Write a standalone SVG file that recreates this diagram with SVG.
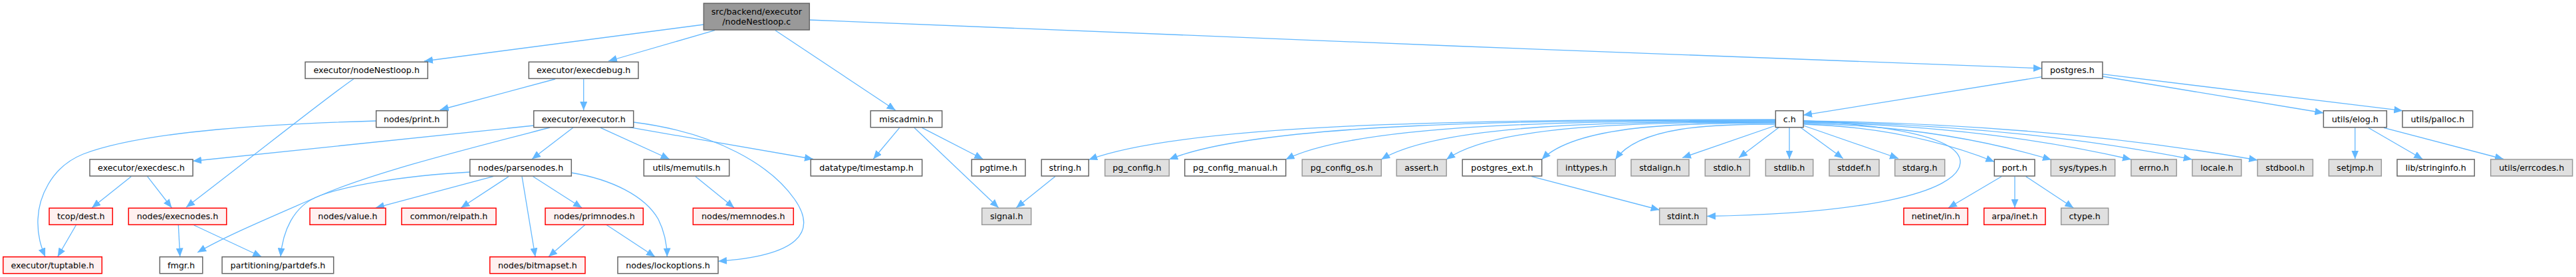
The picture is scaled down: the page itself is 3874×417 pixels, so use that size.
<svg xmlns="http://www.w3.org/2000/svg" width="3874" height="417" viewBox="0 0 3874 417">
<style>
rect{stroke-width:1.5}
.w rect{fill:#fff;stroke:#666}
.g rect{fill:#e0e0e0;stroke:#999}
.r rect{fill:#fff0f0;stroke:#f00}
.root rect{fill:#999;stroke:#666}
text{font-family:"DejaVu Sans","Liberation Sans",sans-serif;font-size:12.7px;text-anchor:middle;fill:#000}
.e path{fill:none;stroke:#63b8ff;stroke-width:1.3;marker-end:url(#ah)}
</style>
<defs>
<marker id="ah" markerUnits="userSpaceOnUse" markerWidth="13" markerHeight="11" refX="13" refY="5.5" orient="auto" viewBox="0 0 13 11"><path d="M0,0 L13,5.5 L0,11 z" fill="#63b8ff"/></marker>
</defs>
<rect width="3874" height="417" fill="#fff"/>
<g id="edges" class="e">
<path d="M1058,37 L638,92"/>
<path d="M1075,45.7 L915,92"/>
<path d="M1166,45.7 L1346.7,166"/>
<path d="M1217.3,30 C1600,44 2600,88 3071,103"/>
<path d="M531.7,119 C500,140 400,220 280,312"/>
<path d="M835,119 L661.7,165.5"/>
<path d="M877.7,119 L877.7,166"/>
<path d="M566,182 C420,186 220,196 125,232 C75,252 58,300 57,330 C56,355 62,372 68,386.5"/>
<path d="M802.7,189 L290,242.5"/>
<path d="M827,192 C700,225 560,260 480,295 C400,330 340,355 297,380"/>
<path d="M707,259 C600,265 520,280 480,295 C440,310 425,350 422,386.5"/>
<path d="M861.7,192.3 L800,239.5"/>
<path d="M903.3,192.3 L1006.7,239.5"/>
<path d="M946.7,191.7 L1223,239.5"/>
<path d="M953,184 C1080,200 1160,250 1195,300 C1230,350 1200,385 1080,393.3"/>
<path d="M741.7,265.7 L565,312.8"/>
<path d="M765,265.7 L693.3,312.8"/>
<path d="M785,265.7 L805,386.5"/>
<path d="M801.7,265.7 L875,312.8"/>
<path d="M859,260 C920,270 970,295 990,330 C1000,350 1003,370 1003.3,386.5"/>
<path d="M880,338.3 L825,386.5"/>
<path d="M911.7,338.3 L985,386.5"/>
<path d="M268.3,339 L270.7,386.5"/>
<path d="M291.7,339 L393.3,386.5"/>
<path d="M197.3,265.7 L138.3,312.8"/>
<path d="M221.7,265.7 L258.3,312.8"/>
<path d="M114.3,339 L86.7,386.5"/>
<path d="M1046,265.7 L1104,312.8"/>
<path d="M1352.7,192.3 L1313.3,239.5"/>
<path d="M1386.7,192.3 L1478.3,239.5"/>
<path d="M1375,192.3 L1501.7,312.8"/>
<path d="M1586.7,265.7 L1528.3,312.8"/>
<path d="M3070.7,115.7 L2712,173.3"/>
<path d="M3162,115 L3494.3,170"/>
<path d="M3162,111.7 L3613.3,166.7"/>
<path d="M2670,180 C2257,180 1792,183 1637.3,240.5"/>
<path d="M2670,181 C2305,181 1895,184 1758.3,240"/>
<path d="M2670,182 C2375,182 2044,185 1933.7,240"/>
<path d="M2670,183 C2433,183 2166,186 2077.3,240"/>
<path d="M2670,184 C2472,184 2249,187 2175.3,240"/>
<path d="M2670,185 C2529,185 2371,188 2318.7,240"/>
<path d="M2670,187 C2574,187 2465,190 2429.3,240"/>
<path d="M2670.3,189 L2530,237.5"/>
<path d="M2675,192 L2615,237.5"/>
<path d="M2691,192 L2691,239.5"/>
<path d="M2708,192 L2771.7,238.5"/>
<path d="M2712,189 L2855,238.5"/>
<path d="M2712,187 Q2870,192 2999.3,243.5"/>
<path d="M2712,185.5 Q2917,190 3085,240.5"/>
<path d="M2712,184 Q2983,189 3205,240"/>
<path d="M2712,183 Q3033.6,188 3296.7,240"/>
<path d="M2712,182 Q3087.6,187 3395,241"/>
<path d="M2712,181.5 C2830,188 2950,205 2948,245 C2945,290 2800,322 2567,325.5"/>
<path d="M2303.3,265.7 L2495.7,316"/>
<path d="M3010,265.7 L2930,313"/>
<path d="M3030,265.7 L3030,312.8"/>
<path d="M3046.7,265.7 L3118.3,313"/>
<path d="M3541.7,192.3 L3541.7,239.5"/>
<path d="M3561.7,192.3 L3643.3,239.5"/>
<path d="M3585,192.3 L3765,239.5"/>
</g>
<g id="n_root" class="root"><rect x="1058.3" y="5" width="159" height="40"/><text x="1137.8" y="21.5">src/backend/executor</text><text x="1137.8" y="36.5">/nodeNestloop.c</text></g>
<g id="n_nodeNestloop_h" class="w"><rect x="459" y="93.3" width="184.3" height="25"/><text x="551.2" y="110.1">executor/nodeNestloop.h</text></g>
<g id="n_execdebug" class="w"><rect x="795.3" y="93.3" width="164.7" height="25"/><text x="877.7" y="110.1">executor/execdebug.h</text></g>
<g id="n_postgres" class="w"><rect x="3070.7" y="93.3" width="91.3" height="25"/><text x="3116.4" y="110.1">postgres.h</text></g>
<g id="n_print" class="w"><rect x="565.7" y="166.7" width="107" height="25"/><text x="619.2" y="183.5">nodes/print.h</text></g>
<g id="n_executor" class="w"><rect x="802.7" y="166.7" width="150" height="25"/><text x="877.7" y="183.5">executor/executor.h</text></g>
<g id="n_miscadmin" class="w"><rect x="1309.3" y="166.7" width="107.4" height="25"/><text x="1363" y="183.5">miscadmin.h</text></g>
<g id="n_c" class="w"><rect x="2670.3" y="166.7" width="41.7" height="25"/><text x="2691.2" y="183.5">c.h</text></g>
<g id="n_elog" class="w"><rect x="3494.3" y="166.7" width="95" height="25"/><text x="3541.8" y="183.5">utils/elog.h</text></g>
<g id="n_palloc" class="w"><rect x="3613" y="166.7" width="105.7" height="25"/><text x="3665.9" y="183.5">utils/palloc.h</text></g>
<g id="n_execdesc" class="w"><rect x="135" y="240" width="155" height="25"/><text x="212.5" y="256.8">executor/execdesc.h</text></g>
<g id="n_parsenodes" class="w"><rect x="706.7" y="240" width="152.6" height="25"/><text x="783" y="256.8">nodes/parsenodes.h</text></g>
<g id="n_memutils" class="w"><rect x="968.3" y="240" width="128.4" height="25"/><text x="1032.5" y="256.8">utils/memutils.h</text></g>
<g id="n_timestamp" class="w"><rect x="1219.3" y="240" width="167.4" height="25"/><text x="1303" y="256.8">datatype/timestamp.h</text></g>
<g id="n_pgtime" class="w"><rect x="1461.3" y="240" width="80.7" height="25"/><text x="1501.7" y="256.8">pgtime.h</text></g>
<g id="n_string" class="w"><rect x="1566.3" y="240" width="71" height="25"/><text x="1601.8" y="256.8">string.h</text></g>
<g id="n_pg_config" class="g"><rect x="1661.7" y="240" width="96.6" height="25"/><text x="1710" y="256.8">pg_config.h</text></g>
<g id="n_pg_config_manual" class="w"><rect x="1781.7" y="240" width="152" height="25"/><text x="1857.7" y="256.8">pg_config_manual.h</text></g>
<g id="n_pg_config_os" class="g"><rect x="1958.3" y="240" width="119" height="25"/><text x="2017.8" y="256.8">pg_config_os.h</text></g>
<g id="n_assert" class="g"><rect x="2100.3" y="240" width="75" height="25"/><text x="2137.8" y="256.8">assert.h</text></g>
<g id="n_postgres_ext" class="w"><rect x="2199.3" y="240" width="119.4" height="25"/><text x="2259" y="256.8">postgres_ext.h</text></g>
<g id="n_inttypes" class="g"><rect x="2342.3" y="240" width="87" height="25"/><text x="2385.8" y="256.8">inttypes.h</text></g>
<g id="n_stdalign" class="g"><rect x="2453" y="240" width="87" height="25"/><text x="2496.5" y="256.8">stdalign.h</text></g>
<g id="n_stdio" class="g"><rect x="2564.3" y="240" width="67" height="25"/><text x="2597.8" y="256.8">stdio.h</text></g>
<g id="n_stdlib" class="g"><rect x="2655.3" y="240" width="71.4" height="25"/><text x="2691" y="256.8">stdlib.h</text></g>
<g id="n_stddef" class="g"><rect x="2751" y="240" width="75" height="25"/><text x="2788.5" y="256.8">stddef.h</text></g>
<g id="n_stdarg" class="g"><rect x="2849.7" y="240" width="75" height="25"/><text x="2887.2" y="256.8">stdarg.h</text></g>
<g id="n_port" class="w"><rect x="2999.3" y="240" width="60.7" height="25"/><text x="3029.7" y="256.8">port.h</text></g>
<g id="n_sys_types" class="g"><rect x="3084.3" y="240" width="96.4" height="25"/><text x="3132.5" y="256.8">sys/types.h</text></g>
<g id="n_errno" class="g"><rect x="3205" y="240" width="68.3" height="25"/><text x="3239.2" y="256.8">errno.h</text></g>
<g id="n_locale" class="g"><rect x="3297" y="240" width="73.7" height="25"/><text x="3333.9" y="256.8">locale.h</text></g>
<g id="n_stdbool" class="g"><rect x="3395" y="240" width="83.3" height="25"/><text x="3436.7" y="256.8">stdbool.h</text></g>
<g id="n_setjmp" class="g"><rect x="3502.3" y="240" width="79" height="25"/><text x="3541.8" y="256.8">setjmp.h</text></g>
<g id="n_stringinfo" class="w"><rect x="3605" y="240" width="116.3" height="25"/><text x="3663.2" y="256.8">lib/stringinfo.h</text></g>
<g id="n_errcodes" class="g"><rect x="3745.7" y="240" width="123" height="25"/><text x="3807.2" y="256.8">utils/errcodes.h</text></g>
<g id="n_dest" class="r"><rect x="74" y="313.3" width="95.3" height="25"/><text x="121.7" y="330.1">tcop/dest.h</text></g>
<g id="n_execnodes" class="r"><rect x="193.3" y="313.3" width="147.4" height="25"/><text x="267" y="330.1">nodes/execnodes.h</text></g>
<g id="n_value" class="r"><rect x="466" y="313.3" width="114" height="25"/><text x="523" y="330.1">nodes/value.h</text></g>
<g id="n_relpath" class="r"><rect x="604" y="313.3" width="142" height="25"/><text x="675" y="330.1">common/relpath.h</text></g>
<g id="n_primnodes" class="r"><rect x="820" y="313.3" width="147.3" height="25"/><text x="893.7" y="330.1">nodes/primnodes.h</text></g>
<g id="n_memnodes" class="r"><rect x="1042.3" y="313.3" width="151" height="25"/><text x="1117.8" y="330.1">nodes/memnodes.h</text></g>
<g id="n_signal" class="g"><rect x="1476.7" y="313.3" width="74" height="25"/><text x="1513.7" y="330.1">signal.h</text></g>
<g id="n_stdint" class="g"><rect x="2495.7" y="313.3" width="71" height="25"/><text x="2531.2" y="330.1">stdint.h</text></g>
<g id="n_netinet" class="r"><rect x="2863" y="313.3" width="96.3" height="25"/><text x="2911.2" y="330.1">netinet/in.h</text></g>
<g id="n_arpa" class="r"><rect x="2983.7" y="313.3" width="92.3" height="25"/><text x="3029.9" y="330.1">arpa/inet.h</text></g>
<g id="n_ctype" class="g"><rect x="3099.7" y="313.3" width="71" height="25"/><text x="3135.2" y="330.1">ctype.h</text></g>
<g id="n_tuptable" class="r"><rect x="4.7" y="386.7" width="148.6" height="25"/><text x="79" y="403.5">executor/tuptable.h</text></g>
<g id="n_fmgr" class="w"><rect x="240.3" y="386.7" width="64.4" height="25"/><text x="272.5" y="403.5">fmgr.h</text></g>
<g id="n_partdefs" class="w"><rect x="334" y="386.7" width="167.7" height="25"/><text x="417.9" y="403.5">partitioning/partdefs.h</text></g>
<g id="n_bitmapset" class="r"><rect x="736.7" y="386.7" width="143.3" height="25"/><text x="808.4" y="403.5">nodes/bitmapset.h</text></g>
<g id="n_lockoptions" class="w"><rect x="929" y="386.7" width="151" height="25"/><text x="1004.5" y="403.5">nodes/lockoptions.h</text></g>
</svg>
